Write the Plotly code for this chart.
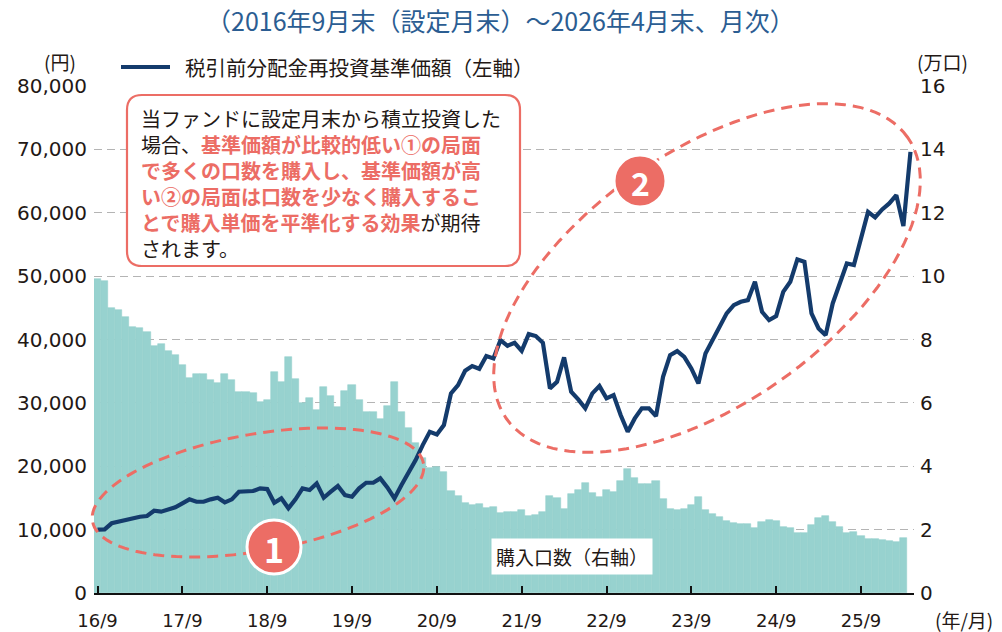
import math

import plotly.graph_objects as go

# ---------------------------------------------------------------------------
# data
# ---------------------------------------------------------------------------

# 税引前分配金再投資基準価額 (円), monthly 2016/9 .. 2026/4
price = [
    10000, 10050, 11000, 11250, 11500, 11880, 12030, 12150, 12980, 12830,
    13200, 13510, 14150, 14780, 14400, 14400, 14780, 15030, 14300, 14780,
    15980, 15980, 16090, 16510, 16400, 14250, 14930, 13360, 14780, 16510,
    16250, 17300, 15030, 15980, 16880, 15460, 15190, 16510, 17400, 17400,
    18090, 16670, 14930, 17030, 18880, 20980, 23340, 25440, 25020, 26500,
    31500, 32800, 35060, 35800, 35380, 37380, 37020, 39900, 39010, 39480,
    38220, 40850, 40540, 39480, 32290, 33330, 37180, 31750, 30550, 29130,
    31500, 32650, 30710, 31230, 28080, 25440, 27550, 29130, 29130, 27920,
    34120, 37540, 38170, 37270, 35440, 33070, 37800, 39900, 42000, 44120,
    45430, 45950, 46210, 49100, 44370, 43060, 43690, 47520, 49100, 52630,
    52260, 44120, 41750, 40690, 45690, 49100, 52000, 51740, 55680, 60140,
    59260, 60520, 61470, 62780, 57890, 69610,
]

# 購入口数 (万口)
units = [
    9.90, 9.85, 9.00, 8.93, 8.70, 8.40, 8.35, 8.23, 7.80, 7.85,
    7.64, 7.50, 7.18, 6.80, 6.92, 6.92, 6.72, 6.63, 6.90, 6.72,
    6.34, 6.34, 6.30, 6.04, 6.09, 6.98, 6.67, 7.44, 6.74, 6.00,
    6.14, 5.77, 6.51, 6.21, 5.88, 6.38, 6.55, 6.09, 5.72, 5.70,
    5.49, 5.90, 6.66, 5.72, 5.21, 4.72, 4.27, 3.93, 3.98, 3.82,
    3.22, 3.07, 2.83, 2.78, 2.81, 2.67, 2.70, 2.51, 2.56, 2.55,
    2.62, 2.43, 2.46, 2.55, 3.07, 2.99, 2.66, 3.11, 3.25, 3.46,
    3.16, 3.04, 3.24, 3.20, 3.54, 3.91, 3.62, 3.44, 3.44, 3.55,
    2.96, 2.66, 2.63, 2.65, 2.78, 3.02, 2.62, 2.49, 2.39, 2.27,
    2.20, 2.17, 2.17, 2.04, 2.25, 2.31, 2.27, 2.09, 2.04, 1.88,
    1.90, 2.15, 2.36, 2.44, 2.23, 2.07, 1.90, 1.91, 1.81, 1.69,
    1.70, 1.67, 1.64, 1.61, 1.74,
]

year_labels = ["16/9", "17/9", "18/9", "19/9", "20/9",
               "21/9", "22/9", "23/9", "24/9", "25/9"]

left_ticks = [0, 10000, 20000, 30000, 40000, 50000, 60000, 70000, 80000]
right_ticks = [0, 2, 4, 6, 8, 10, 12, 14, 16]

# ---------------------------------------------------------------------------
# styling
# ---------------------------------------------------------------------------

FONT = "Noto Sans CJK JP"
NUM_FONT = "DejaVu Sans"
NAVY = "#143b6c"
TEAL = "#97d2cf"
SALMON = "#ec6d65"
TXT = "#231815"

WIN_W, WIN_H = 1002, 632
OFF = 8                                 # page body margin
L, R, T, B = 94, 914, 86, 593           # plot area in window pixels


def px(x):
    return (x - L) / (R - L)


def py(y):
    return (B - y) / (B - T)


def ellipse_path(cx, cy, a, b, deg, n=120):
    th = math.radians(deg)
    pts = []
    for k in range(n):
        t = 2 * math.pi * k / n
        ex, ey = a * math.cos(t), b * math.sin(t)
        x = cx + ex * math.cos(th) - ey * math.sin(th)
        y = cy - (ex * math.sin(th) + ey * math.cos(th))
        pts.append(f"{px(x):.5f},{py(y):.5f}")
    return "M" + " L".join(pts) + " Z"


def round_rect_path(x0, y0, x1, y1, r):
    p = [
        f"M{px(x0 + r):.5f},{py(y0):.5f}",
        f"L{px(x1 - r):.5f},{py(y0):.5f}",
        f"Q{px(x1):.5f},{py(y0):.5f} {px(x1):.5f},{py(y0 + r):.5f}",
        f"L{px(x1):.5f},{py(y1 - r):.5f}",
        f"Q{px(x1):.5f},{py(y1):.5f} {px(x1 - r):.5f},{py(y1):.5f}",
        f"L{px(x0 + r):.5f},{py(y1):.5f}",
        f"Q{px(x0):.5f},{py(y1):.5f} {px(x0):.5f},{py(y1 - r):.5f}",
        f"L{px(x0):.5f},{py(y0 + r):.5f}",
        f"Q{px(x0):.5f},{py(y0):.5f} {px(x0 + r):.5f},{py(y0):.5f}",
        "Z",
    ]
    return " ".join(p)


def note(text, x, y, size, color=TXT, xanchor="center", **kw):
    return dict(text=text, x=px(x), y=py(y), xref="paper", yref="paper",
                xanchor=xanchor, yanchor="middle", showarrow=False,
                font=dict(size=size, color=color), **kw)


# ---------------------------------------------------------------------------
# figure
# ---------------------------------------------------------------------------

fig = go.Figure()

fig.add_trace(go.Bar(
    x=list(range(len(units))),
    y=units,
    yaxis="y",
    width=1.0,
    marker=dict(color=TEAL, line=dict(color=TEAL, width=0.6)),
    hoverinfo="skip",
    showlegend=False,
))

fig.add_trace(go.Scatter(
    x=list(range(len(price))),
    y=price,
    yaxis="y2",
    mode="lines",
    line=dict(color=NAVY, width=4.2),
    showlegend=False,
))

shapes = [
    # ellipses
    dict(type="path", xref="paper", yref="paper",
         path=ellipse_path(258, 492.5, 168, 58.5, 9.9),
         line=dict(color=SALMON, width=3, dash="11px,7px")),
    dict(type="path", xref="paper", yref="paper",
         path=ellipse_path(707, 278, 245, 126, 35),
         line=dict(color=SALMON, width=3, dash="11px,7px")),
    # numbered circles
    dict(type="circle", xref="paper", yref="paper",
         x0=px(247), x1=px(301), y0=py(574), y1=py(520),
         fillcolor=SALMON, line=dict(color="white", width=3)),
    dict(type="circle", xref="paper", yref="paper",
         x0=px(614), x1=px(666), y0=py(207), y1=py(155),
         fillcolor=SALMON, line=dict(color="white", width=3)),
    # text box
    dict(type="path", xref="paper", yref="paper",
         path=round_rect_path(127, 95, 520, 266, 15),
         fillcolor="white", line=dict(color=SALMON, width=2.2)),
    # legend line
    dict(type="line", xref="paper", yref="paper",
         x0=px(121), x1=px(170), y0=py(67), y1=py(67),
         line=dict(color=NAVY, width=4.2)),
]

box_text = (
    "当ファンドに設定月末から積立投資した<br>"
    f"場合、<span style='color:{SALMON}'><b>基準価額が比較的低い①の局面</b></span><br>"
    f"<span style='color:{SALMON}'><b>で多くの口数を購入し、基準価額が高</b></span><br>"
    f"<span style='color:{SALMON}'><b>い②の局面は口数を少なく購入するこ</b></span><br>"
    f"<span style='color:{SALMON}'><b>とで購入単価を平準化する効果</b></span>が期待<br>"
    "されます。"
)

annotations = [
    note("（2016年9月末（設定月末）～2026年4月末、月次）", 500, 20, 25,
         color="#2b5d92"),
    note("税引前分配金再投資基準価額（左軸）", 183, 67, 20.5, xanchor="left"),
    note("(円)", 60, 62, 19),
    note("(万口)", 942, 62, 19),
    note("(年/月)", 964, 619, 19),
    dict(text=box_text, x=px(139), y=py(183), xref="paper", yref="paper",
         xanchor="left", yanchor="middle", align="left",
         showarrow=False, font=dict(size=20, color=TXT)),
    note("購入口数（右軸）", 572, 556, 19, bgcolor="white", borderpad=4),
    note("<b>1</b>", 274, 548, 34, color="white"),
    note("<b>2</b>", 640, 182, 32, color="white"),
]

fig.update_layout(
    template="none",
    width=WIN_W - OFF,
    height=WIN_H - OFF,
    margin=dict(l=L - OFF, r=WIN_W - R, t=T - OFF, b=WIN_H - B,
                autoexpand=False),
    paper_bgcolor="white",
    plot_bgcolor="white",
    font=dict(family=FONT, color=TXT),
    bargap=0,
    showlegend=False,
    xaxis=dict(
        range=[-0.5, len(price) - 0.5],
        tickmode="array",
        tickvals=[12 * i for i in range(len(year_labels))],
        ticktext=year_labels,
        ticks="inside", ticklen=7, tickwidth=1.6, tickcolor="#111",
        showline=True, linecolor="#111", linewidth=1.6,
        showgrid=False, zeroline=False, automargin=False,
        ticklabelstandoff=11,
        tickfont=dict(family=NUM_FONT, size=18, color=TXT),
    ),
    yaxis=dict(
        side="right",
        range=[0, 16],
        tickmode="array", tickvals=right_ticks,
        showgrid=True, gridcolor="#b4b4b4", gridwidth=1.3, griddash="8px,5px",
        zeroline=False, showline=False, ticks="", automargin=False,
        ticklabelstandoff=5,
        tickfont=dict(family=NUM_FONT, size=20, color=TXT),
    ),
    yaxis2=dict(
        overlaying="y",
        side="left",
        range=[0, 80000],
        tickmode="array", tickvals=left_ticks,
        tickformat=",",
        showgrid=False, zeroline=False, showline=False, ticks="",
        automargin=False,
        ticklabelstandoff=6,
        tickfont=dict(family=NUM_FONT, size=20, color=TXT),
    ),
    shapes=shapes,
    annotations=annotations,
)

fig.write_html("out.html")
